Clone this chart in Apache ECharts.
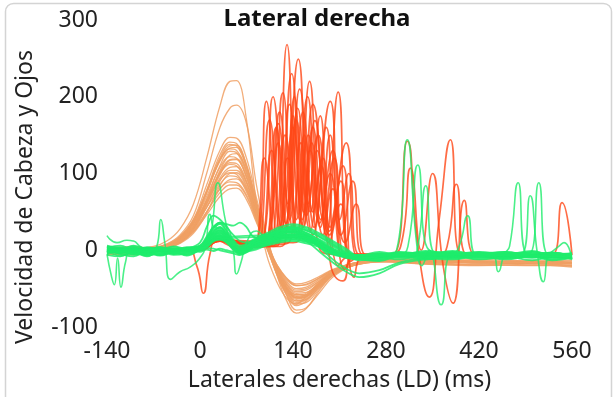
<!DOCTYPE html>
<html><head><meta charset="utf-8">
<script src="https://cdn.jsdelivr.net/npm/echarts@6/dist/echarts.min.js"></script>
<style>html,body{margin:0;padding:0;background:#fff}#c{width:615px;height:397px}</style>
</head><body><div id="c"></div>
<script>
// ---- axis / ticks ----
const xTicks = [-140, 0, 140, 280, 420, 560];
const yTicks = [-100, 0, 100, 200, 300];
const chartTitle = 'Lateral derecha';
const xTitle = 'Laterales derechas (LD) (ms)';
const yTitle = 'Velocidad de Cabeza y Ojos';

// ---- head velocity traces (orange), sampled at orangeX ----
const orangeX = [-140,-100,-70,-50,-30,-10,10,30,45,55,70,85,100,115,130,145,160,180,200,230,270,340,420,500,560];
const O1  = [4,2,5,12,28,60,120,188,220,221,170,60,-5,-40,-62,-70,-60,-42,-28,-18,-14,-15,-19,-17,-21];
const O2  = [3,1,3,8,20,45,100,160,185,189,165,85,20,-25,-50,-62,-58,-42,-27,-18,-13,-14,-15,-16,-17];
const O3  = [2,0,2,6,18,40,85,130,147,146,120,68,20,-22,-48,-62,-60,-45,-30,-19,-13,-17,-15,-19,-17];
const O4  = [-4,-6,-2,5,15,36,78,124,141,139,112,62,16,-28,-58,-78,-75,-55,-35,-20,-14,-15,-16,-15,-18];
const O5  = [0,5,2,5,14,34,74,118,136,137,110,60,12,-30,-65,-82,-76,-52,-33,-20,-15,-13,-16,-17,-16];
const O6  = [2,1,3,7,17,38,76,116,132,130,104,58,14,-20,-40,-50,-48,-38,-27,-17,-12,-11,-12,-14,-13];
const O7  = [-6,-3,1,4,12,30,66,110,129,127,100,56,10,-26,-52,-64,-60,-44,-30,-18,-13,-15,-16,-15,-17];
const O8  = [0,-2,0,3,10,28,62,104,124,126,102,58,14,-18,-38,-46,-44,-36,-26,-17,-13,-13,-14,-15,-16];
const O9  = [5,3,2,6,16,36,70,108,122,120,96,52,8,-30,-56,-70,-68,-50,-32,-19,-14,-18,-20,-19,-22];
const O10 = [1,1,2,5,13,32,64,102,118,119,96,54,12,-22,-44,-56,-55,-42,-29,-18,-13,-14,-15,-16,-17];
const O11 = [-3,-5,-2,4,11,28,60,98,114,113,90,50,8,-28,-54,-66,-62,-46,-31,-19,-14,-15,-16,-15,-17];
const O12 = [2,0,2,6,15,34,66,100,112,110,88,48,10,-18,-36,-44,-42,-34,-25,-17,-12,-13,-15,-14,-16];
const O13 = [1,-1,1,5,12,30,60,94,108,109,88,50,10,-24,-48,-60,-58,-44,-30,-18,-13,-14,-16,-16,-17];
const O14 = [-2,-4,1,4,10,26,56,90,104,104,84,46,6,-30,-58,-72,-66,-48,-32,-20,-14,-17,-18,-17,-20];
const O15 = [2,1,3,7,16,34,62,92,101,99,80,44,8,-20,-42,-52,-50,-40,-28,-18,-13,-14,-15,-15,-16];
const O16 = [1,0,2,5,12,28,56,86,97,96,78,42,6,-26,-50,-62,-60,-46,-31,-19,-14,-14,-16,-16,-17];
const O17 = [0,-1,0,3,10,24,50,80,92,93,76,42,6,-22,-44,-54,-52,-40,-28,-18,-13,-14,-15,-16,-17];
const O18 = [-5,-2,2,6,14,30,56,80,89,88,72,40,4,-28,-52,-66,-64,-48,-32,-20,-15,-15,-16,-17,-18];
const O19 = [1,1,2,5,11,26,50,75,85,85,70,38,5,-18,-36,-46,-45,-36,-26,-17,-13,-13,-14,-15,-16];
const O20 = [0,0,1,4,10,24,46,70,80,81,66,36,4,-24,-46,-58,-56,-42,-29,-18,-13,-14,-16,-16,-17];
const O21 = [2,4,2,6,16,38,76,118,133,134,108,62,14,-24,-50,-60,-58,-44,-30,-19,-14,-15,-16,-16,-17];
const O22 = [1,-1,1,4,12,30,62,100,117,118,94,54,10,-26,-50,-62,-60,-45,-30,-18,-13,-14,-15,-16,-17];
const O23 = [-3,-1,0,3,9,22,48,84,100,101,82,46,8,-24,-48,-58,-58,-46,-32,-20,-15,-18,-19,-20,-20];
const O24 = [3,2,4,8,18,40,78,120,138,136,108,60,12,-26,-54,-68,-64,-46,-30,-19,-14,-13,-14,-16,-15];
const orangeTraces = [O1,O2,O3,O4,O5,O6,O7,O8,O9,O10,O11,O12,O13,O14,O15,O16,O17,O18,O19,O20,O21,O22,O23,O24];

// ---- eye saccade traces (red), [ms, velocity] ----
const R1 = [[-140,0],[-60,2],[0,0],[30,12],[60,5],[86,10],[100,194],[116,15],[131,268],[147,20],[163,150],[180,2],[205,-5],[560,-6]];
const R2 = [[-140,0],[0,2],[30,14],[80,6],[95,10],[110,200],[128,30],[148,249],[166,25],[185,120],[200,-2],[230,-6],[560,-6]];
const R3 = [[-140,1],[0,1],[30,13],[90,5],[105,15],[120,180],[135,40],[150,210],[170,20],[196,194],[215,-8],[260,-6],[560,-6]];
const R4 = [[-140,0],[0,2],[30,15],[88,5],[92,10],[105,170],[121,20],[138,230],[156,30],[173,169],[190,20],[208,206],[226,-15],[250,-6],[560,-6]];
const R5 = [[-140,0],[0,1],[30,12],[95,5],[102,10],[115,160],[129,35],[142,200],[156,50],[170,190],[195,20],[220,140],[238,-10],[260,-6],[560,-6]];
const R6 = [[-140,2],[0,2],[30,14],[100,5],[110,12],[125,205],[140,25],[155,180],[172,30],[190,160],[208,-20],[230,-6],[560,-6]];
const R7 = [[-140,0],[0,1],[30,13],[80,5],[86,8],[97,120],[112,20],[128,150],[145,15],[162,200],[180,35],[200,130],[218,-25],[240,-6],[560,-6]];
const R8 = [[-140,1],[0,2],[30,14],[110,5],[120,12],[135,190],[150,40],[165,220],[182,40],[196,100],[212,20],[230,90],[245,-6],[560,-6]];
const R9 = [[-140,0],[0,1],[30,12],[95,5],[104,10],[118,140],[131,30],[145,170],[160,45],[178,150],[195,25],[215,110],[232,-35],[250,-6],[560,-6]];
const R10 = [[-140,0],[0,2],[30,15],[92,5],[96,12],[108,130],[123,30],[140,160],[154,40],[168,140],[185,20],[200,80],[218,10],[235,60],[250,-6],[560,-6]];
const R11 = [[-140,2],[0,1],[30,13],[140,10],[152,20],[166,130],[181,30],[196,150],[210,40],[224,100],[240,-6],[560,-6]];
const R12 = [[-140,0],[0,2],[30,14],[100,5],[118,15],[132,120],[145,40],[157,150],[170,50],[182,110],[197,-20],[215,-40],[232,-6],[560,-6]];
const R13 = [[-140,0],[-20,0],[-5,-20],[5,-56],[15,-5],[25,15],[40,8],[60,2],[100,12],[140,20],[180,8],[220,-5],[290,-5],[312,142],[328,5],[345,-61],[360,40],[377,144],[392,-5],[420,-6],[560,-6]];
const R14 = [[-140,0],[0,2],[30,15],[60,0],[100,12],[140,18],[180,8],[220,-6],[280,-5],[302,5],[317,107],[333,0],[350,100],[366,-20],[381,-69],[398,65],[414,-6],[560,-6]];
const R15 = [[-140,0],[0,2],[30,14],[60,0],[100,10],[140,17],[180,7],[220,-6],[360,-5],[372,5],[386,86],[402,-6],[530,-6],[545,62],[560,-6]];
const R16 = [[-140,0],[0,1],[30,13],[115,5],[128,10],[140,175],[155,30],[170,160],[186,40],[202,120],[220,-10],[240,-6],[560,-6]];
const R17 = [[-140,0],[0,2],[30,14],[90,4],[104,25],[118,165],[133,60],[147,185],[162,60],[176,130],[194,10],[212,60],[228,-8],[560,-6]];
const R18 = [[-140,0],[0,1],[30,12],[125,8],[138,20],[152,140],[166,50],[181,175],[196,30],[212,90],[228,-8],[560,-6]];
const redTraces = [R1,R2,R3,R4,R5,R6,R7,R8,R9,R10,R11,R12,R13,R14,R15,R16,R17,R18];

// ---- eye/head traces (green), sampled at greenX ----
const greenX = [-140,-120,-100,-80,-60,-40,-20,0,10,20,30,40,50,60,70,80,100,120,140,160,180,200,220,240,270,300,340,380,420,460,500,530,560];
const G1  = [3,-2,4,-3,2,-4,3,5,12,22,26,18,8,0,3,10,16,24,28,22,14,5,-4,-9,-4,-8,-3,-9,-5,-2,-8,-4,-6];
const G2  = [-4,2,-3,-6,1,-5,-2,0,8,15,18,12,4,-4,-1,6,12,18,20,16,8,-2,-8,-12,-10,-5,-11,-7,-12,-9,-6,-11,-9];
const G3  = [-6,-8,-2,-7,-4,-3,-6,2,14,28,34,24,10,2,4,12,20,28,30,26,18,8,-2,-7,-2,-6,-1,-5,-3,-7,-2,-5,-4];
const G4  = [5,1,6,2,4,0,3,4,10,16,18,14,6,-2,0,6,10,14,16,14,8,0,-5,-7,-9,-3,-7,-4,-9,-5,-10,-6,-7];
const G5  = [-1,-7,-3,-8,-1,-6,-4,1,10,20,24,16,6,-2,2,8,14,20,24,20,10,-1,-8,-13,-9,-12,-6,-10,-8,-12,-8,-13,-10];
const G6  = [6,2,0,4,1,5,2,6,14,24,30,22,12,4,6,12,18,26,32,28,20,10,0,-9,-7,-3,-5,-2,-7,-4,-6,-3,-8];
const G7  = [0,-5,-8,-2,-6,-2,-7,1,8,14,16,10,2,-6,-3,4,10,16,18,14,6,-4,-10,-12,-14,-8,-12,-7,-11,-8,-13,-9,-10];
const G8  = [-2,3,0,-4,2,-1,4,3,12,20,22,16,8,2,4,10,16,22,26,20,10,0,-6,-8,-4,-6,-2,-6,-3,-5,-1,-7,-4];
const G9  = [1,-4,1,-5,2,-3,1,5,16,30,36,26,14,6,8,14,22,30,34,30,22,12,2,-8,-7,-5,-9,-6,-4,-8,-6,-3,-8];
const G10 = [4,1,5,-2,3,-2,2,2,9,17,19,13,5,-2,1,7,13,19,21,17,9,-1,-7,-9,-11,-6,-8,-11,-7,-10,-7,-9,-8];
const G11 = [3,6,1,3,-1,2,0,2,10,18,20,15,6,0,2,9,15,21,24,18,10,-2,-9,-11,-9,-7,-6,-7,-3,-7,-4,-8,-5];
const G12 = [-5,0,-6,-3,-7,-3,-5,0,6,12,14,10,3,-4,-2,4,8,12,14,12,6,-3,-9,-11,-13,-7,-10,-12,-8,-11,-8,-12,-9];
const G13 = [0,-2,3,-1,4,-1,1,4,14,26,30,20,10,3,5,11,19,27,30,26,17,7,-3,-8,-7,-2,-5,-1,-6,-2,-6,-3,-7];
const G14 = [1,-3,1,-6,0,-4,1,3,11,19,22,17,8,1,3,9,15,22,25,19,11,0,-7,-10,-8,-10,-6,-9,-7,-10,-7,-8,-9];
const G15 = [-2,-3,-5,-2,-6,-2,0,2,9,16,18,12,4,-3,0,6,11,17,19,15,7,-3,-9,-11,-9,-7,-10,-7,-5,-6,-9,-8,-11];
const G16 = [0,-1,0,-2,0,-1,0,3,12,22,26,20,10,2,4,10,18,24,26,18,4,-12,-24,-30,-26,-16,-10,-8,-8,-7,-7,-8,-9];
const G17 = [1,0,-1,-2,1,0,1,2,10,18,20,14,6,0,2,8,14,20,20,12,-2,-16,-28,-35,-30,-18,-12,-9,-8,-8,-8,-9,-10];
const G18 = [-1,-2,0,-1,0,-1,2,10,30,45,40,30,20,12,10,12,16,22,24,18,10,0,-6,-9,-8,-7,-6,-6,-7,-6,-7,-7,-8];
const G19 = [0,-1,1,0,1,0,2,6,18,30,36,34,32,36,30,18,14,18,22,18,10,0,-6,-9,-8,-6,-5,-6,-6,-6,-6,-7,-8];
const G20 = [2,4,0,3,0,4,1,3,12,20,24,18,8,1,4,12,20,26,28,22,12,2,-4,-7,-6,-5,-4,-5,-2,-5,-3,-6,-4];
const G21 = [-3,0,-4,1,-3,1,-2,1,7,13,15,11,4,-3,0,5,9,15,17,13,6,-2,-7,-9,-6,-9,-5,-8,-6,-9,-5,-8,-7];
const G22 = [2,-2,2,-1,3,-2,2,4,13,24,28,21,11,3,5,11,18,25,29,23,13,2,-5,-7,-5,-4,-7,-3,-6,-3,-7,-4,-6];
const G23 = [1,-3,2,-2,1,-3,0,-2,1,-1,2,0,-2,-3,1,4,8,12,14,11,6,-2,-6,-8,-6,-7,-4,-7,-5,-8,-6,-7,-8];
const G24 = [-3,1,-2,2,-4,0,-3,0,3,2,0,-2,-4,-6,-2,2,6,10,12,9,4,-4,-8,-10,-8,-5,-8,-6,-9,-6,-9,-7,-9];
const greenTraces = [G1,G2,G3,G4,G5,G6,G7,G8,G9,G10,G11,G12,G13,G14,G15,G16,G17,G18,G19,G20,G21,G22,G23,G24];

// ---- green traces with isolated saccades, [ms, velocity] ----
const GS1 = [[-140,19],[-125,10],[-110,13],[-100,12],[-90,5],[-75,0],[-65,5],[-59,40],[-53,10],[-44,-38],[-30,-28],[-15,-22],[0,-10],[8,5],[15,47],[22,30],[30,35],[40,32],[50,0],[55,-31],[62,-15],[70,10],[85,25],[100,18],[130,24],[160,18],[190,5],[220,-8],[260,-12],[300,-7],[400,-6],[560,-8]];
const GS2 = [[-140,-5],[-133,-35],[-129,-45],[-124,-10],[-119,-48],[-112,-15],[-105,-2],[-90,-5],[-70,0],[-50,-3],[-30,0],[-10,0],[10,12],[17,25],[27,88],[38,40],[48,5],[60,0],[80,6],[110,14],[140,20],[170,12],[200,-4],[240,-10],[300,-6],[400,-7],[560,-8]];
const GS3 = [[-140,0],[-60,1],[0,3],[30,18],[60,0],[100,12],[140,20],[180,8],[220,-6],[280,-6],[296,0],[312,144],[326,10],[334,-20],[345,0],[363,-71],[380,-5],[420,-6],[560,-8]];
const GS4 = [[-140,1],[0,2],[30,16],[60,-1],[140,18],[220,-7],[300,-5],[313,5],[328,111],[345,0],[380,-3],[390,5],[403,45],[416,-6],[560,-7]];
const GS5 = [[-140,-1],[0,1],[30,14],[60,-2],[140,16],[220,-8],[320,-6],[328,5],[340,84],[353,-3],[440,-6],[449,-28],[458,-5],[466,5],[479,88],[492,-5],[560,-8]];
const GS6 = [[-140,0],[0,2],[30,15],[140,18],[220,-7],[420,-6],[484,-5],[497,71],[508,-5],[517,-41],[528,-5],[560,-12]];
const GS7 = [[-140,1],[0,3],[30,17],[140,20],[220,-6],[420,-5],[495,-5],[510,88],[524,-5],[540,5],[548,10],[560,-12]];
const greenSaccades = [GS1,GS2,GS3,GS4,GS5,GS6,GS7];

const ORANGE = '#F0A064', RED = '#FF4716', GREEN = '#1EEC6C';

const series = [];
function lineSeries(data, color, z, op, w, sm) {
  return { type: 'line', data, symbol: 'none', smooth: sm, silent: true, z,
    lineStyle: { color, width: w, opacity: op }, animation: false };
}
orangeTraces.forEach(t => series.push(lineSeries(orangeX.map((x, i) => [x, t[i]]), ORANGE, 2, 0.85, 1.3, 0.4)));
redTraces.forEach(t => series.push(lineSeries(t, RED, 3, 0.8, 1.7, 0.55)));
greenTraces.forEach(t => series.push(lineSeries(greenX.map((x, i) => [x, t[i]]), GREEN, 4, 0.85, 1.8, 0.4)));
greenSaccades.forEach(t => series.push(lineSeries(t, GREEN, 4, 0.8, 1.6, 0.55)));

const FONT = '"Noto Sans", "Open Sans", sans-serif';
const chart = echarts.init(document.getElementById('c'), null, { renderer: 'canvas' });
chart.setOption({
  animation: false,
  backgroundColor: '#fff',
  title: { text: chartTitle, left: 312, textAlign: 'center', top: 2,
    textStyle: { fontFamily: FONT, fontSize: 24, fontWeight: 'bold', color: '#111' } },
  grid: { left: 107, right: 43, top: 20, bottom: 65 },
  xAxis: { type: 'value', min: xTicks[0], max: xTicks[xTicks.length - 1], interval: 140,
    axisLine: { show: false }, axisTick: { show: false }, splitLine: { show: false },
    axisLabel: { fontFamily: FONT, fontSize: 23, color: '#222', margin: 13 },
    name: xTitle, nameLocation: 'middle', nameGap: 42,
    nameTextStyle: { fontFamily: FONT, fontSize: 23, color: '#222' } },
  yAxis: { type: 'value', min: yTicks[0], max: yTicks[yTicks.length - 1], interval: 100,
    axisLine: { show: false }, axisTick: { show: false }, splitLine: { show: false },
    axisLabel: { fontFamily: FONT, fontSize: 23, color: '#222', margin: 9 } },
  graphic: [
    { type: 'rect', shape: { x: 5.5, y: 3.5, width: 606, height: 430, r: 8 }, silent: true,
      style: { fill: 'none', stroke: '#d4d4d4', lineWidth: 1.5 }, z: 0 },
    { type: 'text', x: 25, y: 197, rotation: Math.PI / 2, silent: true,
      style: { text: yTitle, fontFamily: FONT, fontSize: 23, fill: '#222', textAlign: 'center', textVerticalAlign: 'middle' } }
  ],
  series
});
</script></body></html>
